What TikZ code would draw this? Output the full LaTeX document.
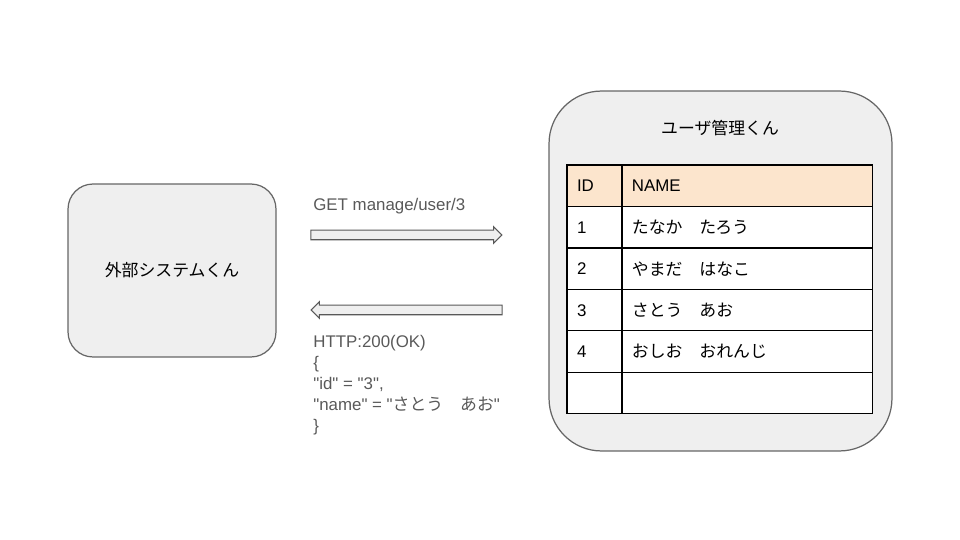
\documentclass[tikz,border=0pt]{standalone}
\usepackage{fontspec}
\setmainfont{Liberation Sans}[Ligatures=TeXOff]
\newfontfamily\jp{Noto Sans CJK JP}
\usetikzlibrary{positioning,shapes.arrows}
\definecolor{boxfill}{HTML}{EFEFEF}
\definecolor{boxline}{HTML}{666666}
\definecolor{txtgray}{HTML}{595959}
\definecolor{headfill}{HTML}{FCE5CD}

\begin{document}
\begin{tikzpicture}[x=0.02cm, y=-0.02cm, font=\fontsize{9.6}{12}\selectfont,
  system/.style = {draw=boxline, fill=boxfill, line width=0.7pt, rounded corners=0.5cm},
  cell/.style = {draw=black, fill=white, line width=0.6pt, outer sep=0pt, minimum height=0.83cm, inner xsep=0.2cm, align=left},
  idcell/.style = {cell, text width=0.7cm},
  namecell/.style = {cell, text width=4.62cm},
  flow/.style = {single arrow, draw=txtgray, fill=boxfill, line width=0.6pt, inner sep=0pt, inner ysep=0.085cm, minimum height=3.82cm, minimum width=0.33cm, single arrow head extend=0.07cm},
  lbl/.style = {text=txtgray, inner sep=0pt, anchor=base west, align=left}]
\useasboundingbox (0,0) rectangle (960,540);
\node[system, minimum width=4.16cm, minimum height=3.46cm] (client) at (172,270.5) {\jp 外部システムくん};
\node[system, rounded corners=1.05cm, minimum width=6.86cm, minimum height=7.2cm] (server) at (720.5,271) {};
\node (title) at (720,128) {\jp ユーザ管理くん};
% table
\node[idcell, fill=headfill, anchor=north west] (id0) at (567,165) {ID};
\node[namecell, fill=headfill, right=0pt of id0] (name0) {NAME};
\node[idcell, below=0pt of id0] (id1) {1};
\node[namecell, right=0pt of id1] (name1) {\jp たなか　たろう};
\node[idcell, below=0pt of id1] (id2) {2};
\node[namecell, right=0pt of id2] (name2) {\jp やまだ　はなこ};
\node[idcell, below=0pt of id2] (id3) {3};
\node[namecell, right=0pt of id3] (name3) {\jp さとう　あお};
\node[idcell, below=0pt of id3] (id4) {4};
\node[namecell, right=0pt of id4] (name4) {\jp おしお　おれんじ};
\node[idcell, below=0pt of id4] (id5) {};
\node[namecell, right=0pt of id5] (name5) {};
% request / response
\node[flow] (req) at (404,235) {};
\node[flow, shape border rotate=180] (res) at (409,310) {};
\node[lbl] (reqlbl) at (313,210.5) {GET manage/user/3};
\node[lbl, anchor=north west] (reslbl) at (313,334.5) {HTTP:200(OK)\\\{\\"id" = "3",\\"name" = "{\jp さとう　あお}"\\\}};
\end{tikzpicture}
\end{document}
